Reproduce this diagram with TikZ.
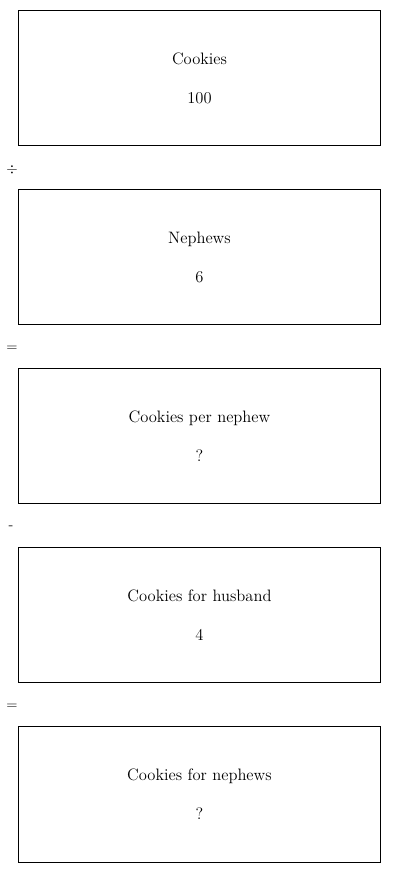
\documentclass[tikz,border=0pt]{standalone}
\usepackage{tikz}
\usetikzlibrary{positioning}
\tikzset{
    qbox/.style={rectangle, draw, line width=0.6pt, minimum width=272pt,
                 minimum height=101.5pt, align=center, inner sep=0pt,
                 font=\fontsize{12.4}{15}\selectfont},
    opr/.style={inner sep=0pt, font=\fontsize{11}{13}\selectfont},
}
\begin{document}
\begin{tikzpicture}[x=0.75pt, y=-0.75pt, node distance=32.2pt]
    \useasboundingbox (0,0) rectangle (400,872);
    \node[qbox] at (199.5,78)        (cookies)  {Cookies\\[14.2pt]100};
    \node[qbox, below=of cookies]    (nephews)  {Nephews\\[14.2pt]6};
    \node[qbox, below=of nephews]    (pernep)   {Cookies per nephew\\[14.2pt]?};
    \node[qbox, below=of pernep]     (husband)  {Cookies for husband\\[14.2pt]4};
    \node[qbox, below=of husband]    (fornep)   {Cookies for nephews\\[14.2pt]?};

    % operators between the boxes
    \node[opr] at (12,170) (div)  {$\div$};
    \node[opr] at (12,349) (eq1)  {=};
    \node[opr] at (11,528) (minus){-};
    \node[opr] at (12,707) (eq2)  {=};
\end{tikzpicture}
\end{document}
